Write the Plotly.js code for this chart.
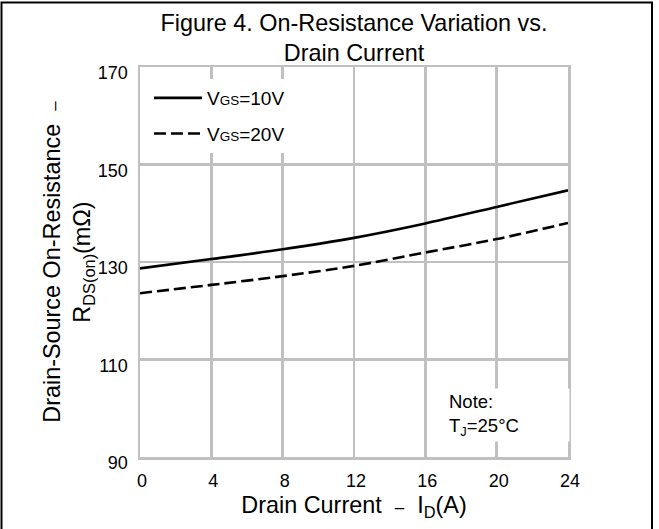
<!DOCTYPE html>
<html>
<head>
<meta charset="utf-8">
<script src="https://cdn.plot.ly/plotly-3.0.1.min.js"></script>
<style>html,body{margin:0;padding:0;background:#fff;}#chart{width:659px;height:529px;}</style>
</head>
<body>
<div id="chart"></div>
<script>
// ---- data ----
const drainCurrent = [0, 4, 8, 12, 16, 20, 24];
const rdsVgs10 = [128.7, 130.6, 132.6, 134.95, 137.9, 141.3, 144.7];
const rdsVgs20 = [123.6, 125.3, 127.1, 129.2, 131.95, 134.7, 138.0];
const seriesNames = ["V<span style='font-size:13.5px'>GS</span>=10V", "V<span style='font-size:13.5px'>GS</span>=20V"];
const xTicks = [0, 4, 8, 12, 16, 20, 24];
const yTicks = [90, 110, 130, 150, 170];

// ---- layout helpers ----
const W = 659, H = 529;
const M = {l: 140, r: 91, t: 67, b: 72};
const PW = W - M.l - M.r, PH = H - M.t - M.b;
const px = x => (x - M.l) / PW;
const py = y => (H - M.b - y) / PH;
const FONT = "Liberation Sans, Arial, Helvetica, sans-serif";

const traces = [
  {x: drainCurrent, y: rdsVgs10, name: seriesNames[0], legendgroup: "a", mode: "lines",
   line: {color: "#000", width: 2.6, shape: "spline", smoothing: 0.8}},
  {x: drainCurrent, y: rdsVgs20, name: seriesNames[1], legendgroup: "b", mode: "lines",
   line: {color: "#000", width: 2.6, dash: "12px,5px", shape: "spline", smoothing: 0.8}}
];

const layout = {
  width: W, height: H,
  margin: M,
  paper_bgcolor: "#fff", plot_bgcolor: "#fff",
  font: {family: FONT, color: "#000", size: 18},
  title: {text: "Figure 4. On-Resistance Variation vs.<br>Drain Current",
          font: {family: FONT, size: 23.4, color: "#000"},
          xref: "paper", x: 0.5, xanchor: "center",
          yref: "container", y: 1 - 31 / H, yanchor: "middle"},
  xaxis: {range: [0, 24], tickvals: xTicks, ticktext: xTicks.map(String),
          showgrid: true, gridcolor: "#c0c0c0", gridwidth: 2.5,
          showline: true, linecolor: "#c0c0c0", linewidth: 2.5, mirror: true,
          zeroline: false, ticks: "", ticklabelshift: 2, ticklabelstandoff: 6,
          tickfont: {family: FONT, size: 18, color: "#000"},
          automargin: false,
          title: {text: "Drain Current  <span style='font-size:17px'>–</span>  I<sub>D</sub>(A)",
                  font: {family: FONT, size: 23.4, color: "#000"}, standoff: 7}},
  yaxis: {range: [90, 170], tickvals: yTicks, ticktext: yTicks.map(String),
          showgrid: true, gridcolor: "#c0c0c0", gridwidth: 2.5,
          showline: true, linecolor: "#c0c0c0", linewidth: 2.5, mirror: true,
          zeroline: false, ticks: "", ticklabelshift: 6, ticklabelstandoff: 6,
          tickfont: {family: FONT, size: 18, color: "#000"},
          automargin: false,
          title: {text: "Drain-Source On-Resistance\u00a0\u00a0<span style='font-size:17px'>–</span><br>R<sub>DS(on)</sub>(mΩ)",
                  font: {family: FONT, size: 23.4, color: "#000"}, standoff: 0}},
  showlegend: true,
  legend: {x: px(149), xanchor: "left", y: py(79), yanchor: "top",
           bgcolor: "#fff", borderwidth: 0, traceorder: "grouped", tracegroupgap: 8,
           itemwidth: 48, font: {family: FONT, size: 19, color: "#000"}},
  annotations: [
    {text: "Note:<br>T<sub>J</sub>=25°C", xref: "paper", yref: "paper",
     x: px(446), y: py(415), xanchor: "left", yanchor: "middle", align: "left",
     width: 118, bgcolor: "#fff", borderpad: 2, showarrow: false,
     font: {family: FONT, size: 18.5, color: "#000"}}
  ],
  shapes: [
    {type: "rect", xref: "paper", yref: "paper", layer: "above",
     x0: px(1.5), x1: px(652), y0: py(531), y1: py(2.5),
     line: {color: "#000", width: 2}, fillcolor: "rgba(0,0,0,0)"}
  ]
};

Plotly.newPlot("chart", traces, layout, {displayModeBar: false, staticPlot: true});
</script>
</body>
</html>
